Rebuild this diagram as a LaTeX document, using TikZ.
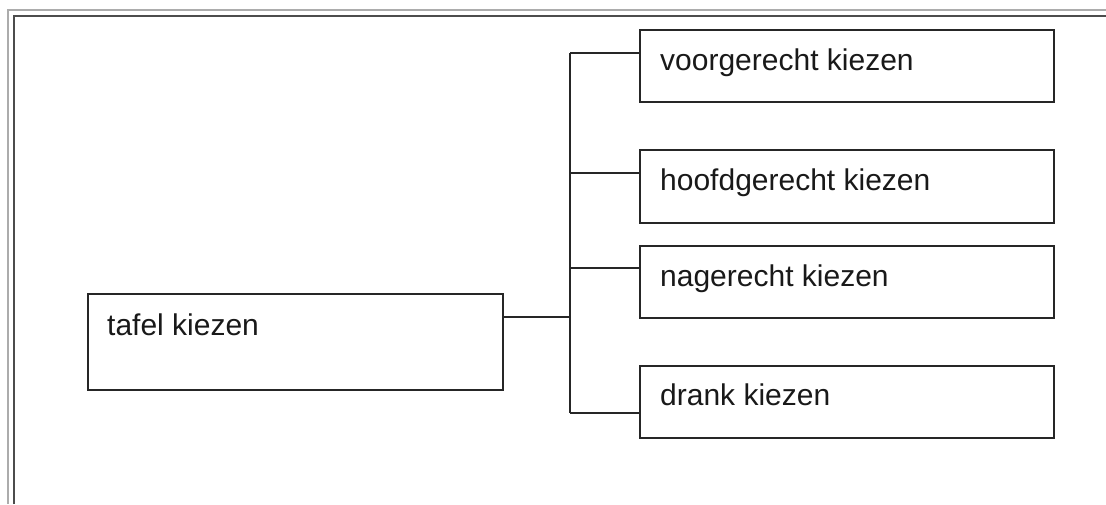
\documentclass[tikz,border=0pt]{standalone}
\usepackage{fontspec}
\setmainfont{Liberation Sans}
\begin{document}
\begin{tikzpicture}[x=1pt,y=-1pt,
  box/.style={draw=black!85,line width=2pt,rectangle,anchor=north west,inner sep=0pt},
  lbl/.style={anchor=base west,inner sep=0pt,font=\fontsize{30}{36}\selectfont,text=black!90},
  conn/.style={draw=black!85,line width=2pt}]
\useasboundingbox[fill=white] (0,0) rectangle (1106,504);
% frame
\draw[gray!65,line width=2pt] (8,504) -- (8,10) -- (1106,10);
\draw[black!70,line width=2.5pt] (14,504) -- (14,16) -- (1106,16);
% boxes
\node[box,minimum width=415pt,minimum height=96pt] (tafel) at (87,293) {};
\node[box,minimum width=414pt,minimum height=72pt] (voor) at (639,29) {};
\node[box,minimum width=414pt,minimum height=73pt] (hoofd) at (639,149) {};
\node[box,minimum width=414pt,minimum height=72pt] (na) at (639,245) {};
\node[box,minimum width=414pt,minimum height=72pt] (drank) at (639,365) {};
% labels
\node[lbl] (tafelt) at (107,335) {tafel kiezen};
\node[lbl] (voort) at (660,70) {voorgerecht kiezen};
\node[lbl] (hoofdt) at (660,190) {hoofdgerecht kiezen};
\node[lbl] (nat) at (660,286) {nagerecht kiezen};
\node[lbl] (drankt) at (660,405) {drank kiezen};
% connectors
\coordinate (j) at (570,317);
\coordinate (t1) at (570,53);
\coordinate (t2) at (570,173);
\coordinate (t3) at (570,268);
\coordinate (t4) at (570,413);
\draw[conn] (j -| tafel.east) -- (j);
\draw[conn] (t1) -- (t4);
\draw[conn] (t1) -- (t1 -| voor.west);
\draw[conn] (t2) -- (t2 -| hoofd.west);
\draw[conn] (t3) -- (t3 -| na.west);
\draw[conn] (t4) -- (t4 -| drank.west);
\end{tikzpicture}
\end{document}
